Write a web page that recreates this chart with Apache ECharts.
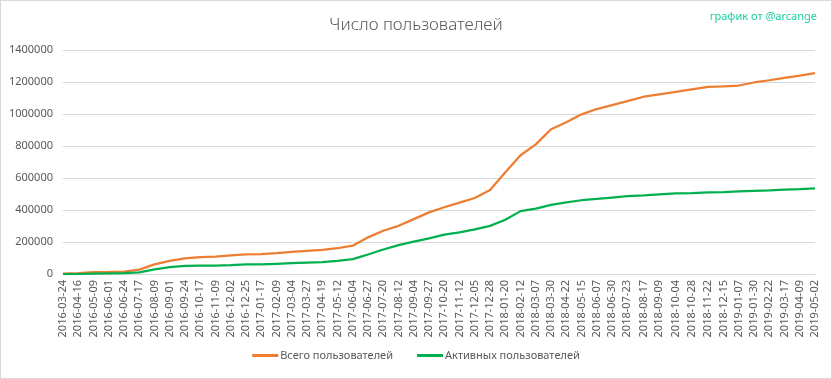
<!DOCTYPE html>
<html>
<head>
<meta charset="utf-8">
<script src="https://cdn.jsdelivr.net/npm/echarts@6/dist/echarts.min.js"></script>
<style>
html,body{margin:0;padding:0;background:#fff;}
#c{width:832px;height:379px;box-sizing:border-box;border:1px solid #d9d9d9;}
</style>
</head>
<body>
<div id="c"></div>
<script>
var dates = ['2016-03-24','2016-04-16','2016-05-09','2016-06-01','2016-06-24','2016-07-17','2016-08-09','2016-09-01','2016-09-24','2016-10-17','2016-11-09','2016-12-02','2016-12-25','2017-01-17','2017-02-09','2017-03-04','2017-03-27','2017-04-19','2017-05-12','2017-06-04','2017-06-27','2017-07-20','2017-08-12','2017-09-04','2017-09-27','2017-10-20','2017-11-12','2017-12-05','2017-12-28','2018-01-20','2018-02-12','2018-03-07','2018-03-30','2018-04-22','2018-05-15','2018-06-07','2018-06-30','2018-07-23','2018-08-17','2018-09-09','2018-10-04','2018-10-28','2018-11-22','2018-12-15','2019-01-07','2019-01-30','2019-02-22','2019-03-17','2019-04-09','2019-05-02'];
var totalUsers = [3000,6000,12000,13000,15000,27000,60000,82000,97000,105000,108000,116000,122000,124000,130000,138000,145000,151000,161000,177000,229000,270000,301000,343000,385000,417000,446000,475000,525000,636000,742000,810000,905000,949000,998000,1031000,1056000,1081000,1108000,1123000,1138000,1154000,1170000,1172000,1178000,1197000,1211000,1226000,1240000,1255000];
var activeUsers = [0,0,3000,4000,5000,10000,29000,43000,51000,52000,53000,56000,60000,60000,64000,68000,71000,74000,82000,93000,122000,153000,180000,202000,223000,246000,260000,279000,301000,339000,393000,409000,432000,448000,461000,469000,478000,486000,492000,498000,504000,506000,510000,512000,517000,520000,523000,527000,530000,535000];
var tickDates = ['2016-03-24','2016-04-16','2016-05-09','2016-06-01','2016-06-24','2016-07-17','2016-08-09','2016-09-01','2016-09-24','2016-10-17','2016-11-09','2016-12-02','2016-12-25','2017-01-17','2017-02-09','2017-03-04','2017-03-27','2017-04-19','2017-05-12','2017-06-04','2017-06-27','2017-07-20','2017-08-12','2017-09-04','2017-09-27','2017-10-20','2017-11-12','2017-12-05','2017-12-28','2018-01-20','2018-02-12','2018-03-07','2018-03-30','2018-04-22','2018-05-15','2018-06-07','2018-06-30','2018-07-23','2018-08-17','2018-09-09','2018-10-04','2018-10-28','2018-11-22','2018-12-15','2019-01-07','2019-01-30','2019-02-22','2019-03-17','2019-04-09','2019-05-02'];
var seriesNames = ['Всего пользователей','Активных пользователей'];
var titleText = 'Число пользователей';
var creditText = 'график от @arcange';

var DAY = 86400000;
function utc(s){var p=s.split('-');return Date.UTC(+p[0],+p[1]-1,+p[2]);}
var origin = utc(dates[0]);
function dayNum(s){return Math.round((utc(s)-origin)/DAY);}
function pad(n){return n<10?'0'+n:''+n;}
function fmt(n){var d=new Date(origin+Math.round(n)*DAY);return d.getUTCFullYear()+'-'+pad(d.getUTCMonth()+1)+'-'+pad(d.getUTCDate());}

var chart = echarts.init(document.getElementById('c'), null, {renderer:'canvas'});
chart.setOption({
  animation:false,
  backgroundColor:'#fff',
  title:[
    {text:titleText,left:'center',top:11,textStyle:{fontFamily:'"Noto Sans", sans-serif',fontWeight:300,fontSize:17,color:'#595959'}},
    {text:creditText,right:9,top:5,textStyle:{fontFamily:'"Noto Sans", sans-serif',fontWeight:'normal',fontSize:11,color:'#1ecfa0'}}
  ],
  legend:{
    bottom:12,left:'center',itemGap:24,itemWidth:26,itemHeight:3,icon:'rect',
    textStyle:{fontFamily:'"Noto Sans", sans-serif',fontSize:11,color:'#595959',padding:[0,0,0,-3]},
    data:seriesNames
  },
  grid:{left:62,right:16,top:49,bottom:104,containLabel:false},
  xAxis:{
    type:'value',min:dayNum(dates[0]),max:dayNum(dates[dates.length-1]),
    axisLine:{show:true,onZero:false,lineStyle:{color:'#d9d9d9',width:1}},
    axisTick:{show:false},
    splitLine:{show:false},
    axisLabel:{
      customValues:tickDates.map(dayNum),
      rotate:90,margin:6,hideOverlap:false,showMinLabel:true,showMaxLabel:true,
      fontFamily:'"Noto Sans", sans-serif',fontSize:11,color:'#595959',
      formatter:function(v){return fmt(v);}
    }
  },
  yAxis:{
    type:'value',min:0,max:1400000,interval:200000,
    axisLine:{show:false},axisTick:{show:false},
    splitLine:{lineStyle:{color:'#d9d9d9',width:1}},
    axisLabel:{fontFamily:'"Noto Sans", sans-serif',fontSize:11,color:'#595959',margin:10,
      formatter:function(v){return String(v);}}
  },
  series:[
    {name:seriesNames[0],type:'line',showSymbol:false,symbol:'none',
     lineStyle:{color:'#ED7D31',width:2.25},itemStyle:{color:'#ED7D31'},
     data:dates.map(function(d,i){return [dayNum(d),totalUsers[i]];})},
    {name:seriesNames[1],type:'line',showSymbol:false,symbol:'none',
     lineStyle:{color:'#00B050',width:2.25},itemStyle:{color:'#00B050'},
     data:dates.map(function(d,i){return [dayNum(d),activeUsers[i]];})}
  ]
});
</script>
</body>
</html>
